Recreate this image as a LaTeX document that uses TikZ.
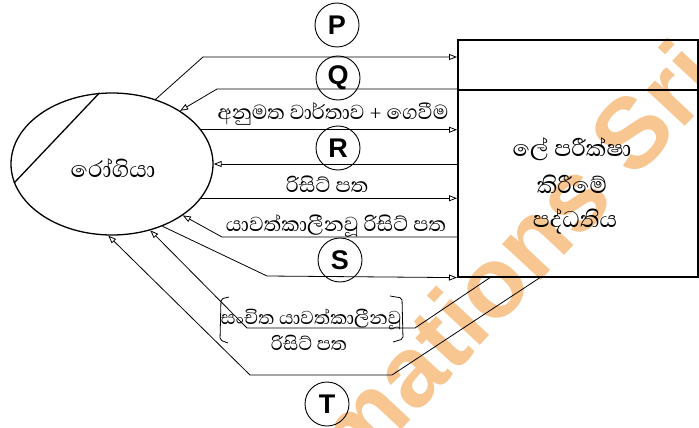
\documentclass[tikz,border=0pt]{standalone}
\usepackage{fontspec}
\newfontfamily\sifont[Script=Sinhala]{Abhaya Libre}
\newfontfamily\lsans{Liberation Sans}
\usetikzlibrary{shapes.geometric,arrows.meta,calc}
\definecolor{wmark}{RGB}{248,198,145}
\tikzset{
  flow/.style={line width=0.8pt,-{Triangle[open,length=8pt,width=6pt]}},
  sitext/.style={font=\sifont\fontsize{26}{28}\selectfont, inner sep=0pt},
  brtext/.style={font=\sifont\fontsize{24}{26}\selectfont, inner sep=0pt},
  boxtext/.style={font=\sifont\fontsize{29}{30}\selectfont, inner sep=0pt},
  letterc/.style={draw, circle, minimum size=44pt, inner sep=0pt, line width=0.9pt,
    font=\lsans\bfseries\fontsize{27}{27}\selectfont},
  brack/.style={line width=0.8pt, rounded corners=2pt}
}
\begin{document}
\begin{tikzpicture}[x=1pt,y=-1pt]
\useasboundingbox (0,0) rectangle (699,428);
% watermark
\begin{scope}
\clip (0,0) rectangle (699,428);
\node[anchor=east, rotate=47, text=wmark, inner sep=0pt,
  font=\lsans\bfseries\fontsize{100}{100}\selectfont] (wm) at (700,58) {mations Sri};
\end{scope}
% entities
\node[draw, ellipse, minimum width=202pt, minimum height=142pt, line width=1.3pt,
  inner sep=0pt] (pat) at (112,164) {};
\node[boxtext] (patl) at (113,168) {රෝගියා};
\draw[line width=1.3pt] (pat.100) -- (pat.191);
\node[draw, line width=1.6pt, minimum width=240pt, minimum height=237pt,
  anchor=north west, inner sep=0pt] (sys) at (457,39) {};
\draw[line width=1.3pt] ($(sys.north west)+(0,51)$) -- ($(sys.north east)+(0,51)$);
\node[boxtext] (s1) at (572,149) {ලේ පරීක්ෂා};
\node[boxtext] (s2) at (572,184) {කිරීමේ};
\node[boxtext] (s3) at (575,221) {පද්ධතිය};
% turning points
\coordinate (a1) at (203,57);
\coordinate (b1) at (217,89);
\coordinate (c1) at (222,237);
\coordinate (d1) at (267,276);
\coordinate (e0) at ($(sys.south west)+(33,0)$);
\coordinate (e1) at (415,328);
\coordinate (e2) at (247,328);
\coordinate (f0) at ($(sys.south west)+(83,0)$);
\coordinate (f1) at (392,375);
\coordinate (f2) at (250,375);
% flows
\draw[flow] (pat.56) -- (a1) -- (a1 -| sys.west);
\draw[flow] (b1 -| sys.west) -- (b1) -- (pat.38);
\draw[flow] (pat.21) -- (pat.21 -| sys.west);
\draw[flow] (sys.west |- pat.east) -- (pat.east);
\draw[flow] (pat.-21) -- (pat.-21 -| sys.west);
\draw[flow] (c1 -| sys.west) -- (c1) -- (pat.-36);
\draw[flow] (pat.-51) -- (d1) -- (sys.south west);
\draw[flow] (e0) -- (e1) -- (e2) -- (pat.-60);
\draw[flow] (f0) -- (f1) -- (f2) -- (pat.-93);
% labels
\node[letterc] (P) at (337,25) {P};
\node[letterc] (Q) at (338,78) {Q};
\node[letterc] (R) at (338,148) {R};
\node[letterc] (S) at (340,260) {S};
\node[letterc] (T) at (327,404) {T};
\node[sitext] (l1) at (333,114) {අනුමත වාර්තාව + ගෙවීම};
\node[sitext] (l2) at (327,184) {රිසිට් පත};
\node[sitext] (l3) at (336,226) {යාවත්කාලීනවූ රිසිට් පත};
\node[brtext] (l4) at (311,319) {සංචිත යාවත්කාලීනවූ};
\node[brtext] (l5) at (309,343) {රිසිට් පත};
\draw[brack] (229,297) -- (221,299) -- (220,340) -- (228,343);
\draw[brack] (390,296) -- (402,298) -- (403,339) -- (393,342);
\end{tikzpicture}
\end{document}
